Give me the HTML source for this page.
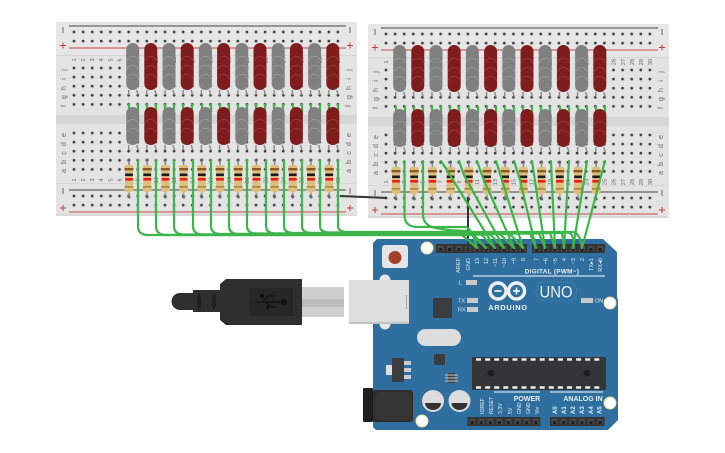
<!DOCTYPE html>
<html><head><meta charset="utf-8"><style>
html,body{margin:0;padding:0;background:#fff}
svg{display:block}
text{font-family:"Liberation Sans",sans-serif}
</style></head><body>
<svg width="725" height="453" viewBox="0 0 725 453" xmlns="http://www.w3.org/2000/svg">
<defs>
<pattern id="h" patternUnits="userSpaceOnUse" x="69.450" y="0" width="9.100" height="9.100">
<circle cx="4.550" cy="4.550" r="2.200" fill="#d6d6d6"/><circle cx="4.550" cy="4.550" r="1.300" fill="#3a3a3a"/>
</pattern>
<pattern id="s1" patternUnits="userSpaceOnUse" x="436" y="244" width="9.100" height="9">
<rect width="9.100" height="9" fill="#333"/><rect x="1.600" y="1.800" width="6" height="5.600" fill="#4a4a4a"/><rect x="3" y="4" width="3.200" height="3.200" fill="#222"/>
</pattern>
<pattern id="s2" patternUnits="userSpaceOnUse" x="532" y="244" width="9.100" height="9">
<rect width="9.100" height="9" fill="#333"/><rect x="1.600" y="1.800" width="6" height="5.600" fill="#4a4a4a"/><rect x="3" y="4" width="3.200" height="3.200" fill="#222"/>
</pattern>
<pattern id="s3" patternUnits="userSpaceOnUse" x="467.500" y="417" width="9.100" height="9">
<rect width="9.100" height="9" fill="#333"/><rect x="1.600" y="1.800" width="6" height="5.600" fill="#4a4a4a"/><rect x="3" y="4" width="3.200" height="3.200" fill="#222"/>
</pattern>
<pattern id="s4" patternUnits="userSpaceOnUse" x="550" y="417" width="9.100" height="9">
<rect width="9.100" height="9" fill="#333"/><rect x="1.600" y="1.800" width="6" height="5.600" fill="#4a4a4a"/><rect x="3" y="4" width="3.200" height="3.200" fill="#222"/>
</pattern>

<g id="legs"><path d="M-4 0V5M4 0L5.500 5" stroke="#8a8a8a" stroke-width="1.400" fill="none"/></g>
<g id="ledG4">
<use href="#legs" y="47"/>
<rect x="-6.500" width="13" height="47" rx="6.500" fill="#808080"/>
<path d="M-6.200 18a6.500 6.500 0 0 1 12.400 0M-6.200 27a6.500 6.500 0 0 1 12.400 0M-6.200 36a6.500 6.500 0 0 1 12.400 0" fill="none" stroke="#989898" stroke-width=".8"/>
</g>
<g id="ledR4">
<use href="#legs" y="47"/>
<rect x="-6.500" width="13" height="47" rx="6.500" fill="#7f1c1e"/>
<path d="M-6.200 18a6.500 6.500 0 0 1 12.400 0M-6.200 27a6.500 6.500 0 0 1 12.400 0M-6.200 36a6.500 6.500 0 0 1 12.400 0" fill="none" stroke="#9e383c" stroke-width=".8"/>
</g>
<g id="ledG3">
<use href="#legs" y="38"/>
<rect x="-6.500" width="13" height="38" rx="6.500" fill="#808080"/>
<path d="M-6.200 17a6.500 6.500 0 0 1 12.400 0M-6.200 26a6.500 6.500 0 0 1 12.400 0" fill="none" stroke="#989898" stroke-width=".8"/>
</g>
<g id="ledR3">
<use href="#legs" y="38"/>
<rect x="-6.500" width="13" height="38" rx="6.500" fill="#7f1c1e"/>
<path d="M-6.200 17a6.500 6.500 0 0 1 12.400 0M-6.200 26a6.500 6.500 0 0 1 12.400 0" fill="none" stroke="#9e383c" stroke-width=".8"/>
</g>
<g id="res">
<path d="M0 160V197" stroke="#8a8a8a" stroke-width="1.500"/>
<circle cy="160" r="1.500" fill="#666"/><circle cy="197" r="1.500" fill="#666"/>
<path d="M-2.500 165h5q2 0 2 2.500v2q0 1.500-.6 2.500v13q.6 1 .6 2.500v1.500q0 2.500-2 2.500l-2.500 2h0l-2.500-2q-2 0-2-2.500v-1.500q0-1.500 .6-2.500v-13q-.6-1-.6-2.500v-2q0-2.500 2-2.500z" fill="#dcbf7c"/>
<rect x="-4.500" y="168" width="9" height="2.400" fill="#8b5a24"/>
<rect x="-3.900" y="173.500" width="7.800" height="2.600" fill="#1c1c1c"/>
<rect x="-3.900" y="178" width="7.800" height="2.600" fill="#f01c1c"/>
<rect x="-4.200" y="186" width="8.400" height="1.600" fill="#a8893f"/>
</g>
<g id="pair">
<use href="#ledG4" x="0" y="43"/><use href="#ledG3" x="0" y="107"/>
</g>
<g id="pairR">
<use href="#ledR4" x="0" y="43"/><use href="#ledR3" x="0" y="107"/>
</g>
<g id="stub"><path d="M-4 104V112M5 104V112" stroke="#3cb54a" stroke-width="2.200"/></g>
<g id="comps">
<use href="#stub" x="133"/><use href="#stub" x="151"/><use href="#stub" x="169"/><use href="#stub" x="187"/><use href="#stub" x="206"/><use href="#stub" x="224"/><use href="#stub" x="242"/><use href="#stub" x="260"/><use href="#stub" x="278"/><use href="#stub" x="297"/><use href="#stub" x="315"/><use href="#stub" x="333"/>
<use href="#pair" x="132.700"/><use href="#pairR" x="150.800"/><use href="#pair" x="169"/><use href="#pairR" x="187.200"/><use href="#pair" x="205.400"/><use href="#pairR" x="223.600"/><use href="#pair" x="241.800"/><use href="#pairR" x="260"/><use href="#pair" x="278.200"/><use href="#pairR" x="296.400"/><use href="#pair" x="314.600"/><use href="#pairR" x="332.800"/>
<use href="#res" x="129"/><use href="#res" x="147.200"/><use href="#res" x="165.400"/><use href="#res" x="183.600"/><use href="#res" x="201.800"/><use href="#res" x="220"/><use href="#res" x="238.200"/><use href="#res" x="256.400"/><use href="#res" x="274.600"/><use href="#res" x="292.800"/><use href="#res" x="311"/><use href="#res" x="329.200"/>
</g>
<g id="nums" font-size="5.500" fill="#666" text-anchor="middle">
<text transform="translate(76,0) rotate(-90)">1</text><text transform="translate(85,0) rotate(-90)">2</text><text transform="translate(94,0) rotate(-90)">3</text><text transform="translate(103,0) rotate(-90)">4</text><text transform="translate(112.500,0) rotate(-90)">5</text><text transform="translate(121.500,0) rotate(-90)">6</text><text transform="translate(130.500,0) rotate(-90)">7</text><text transform="translate(139.700,0) rotate(-90)">8</text><text transform="translate(148.800,0) rotate(-90)">9</text><text transform="translate(158,0) rotate(-90)">10</text><text transform="translate(167,0) rotate(-90)">11</text><text transform="translate(176,0) rotate(-90)">12</text><text transform="translate(185,0) rotate(-90)">13</text><text transform="translate(194.500,0) rotate(-90)">14</text><text transform="translate(203.500,0) rotate(-90)">15</text><text transform="translate(212.500,0) rotate(-90)">16</text><text transform="translate(221.700,0) rotate(-90)">17</text><text transform="translate(230.800,0) rotate(-90)">18</text><text transform="translate(240,0) rotate(-90)">19</text><text transform="translate(249,0) rotate(-90)">20</text><text transform="translate(258,0) rotate(-90)">21</text><text transform="translate(267.300,0) rotate(-90)">22</text><text transform="translate(276.400,0) rotate(-90)">23</text><text transform="translate(285.500,0) rotate(-90)">24</text><text transform="translate(294.600,0) rotate(-90)">25</text><text transform="translate(303.700,0) rotate(-90)">26</text><text transform="translate(312.800,0) rotate(-90)">27</text><text transform="translate(322,0) rotate(-90)">28</text><text transform="translate(331,0) rotate(-90)">29</text><text transform="translate(340,0) rotate(-90)">30</text>
</g>
<g id="board">
<rect x="56" y="22" width="301" height="194" rx="2" fill="#e3e3e3"/>
<rect x="56" y="22" width="301" height="33" rx="2" fill="#e6e6e6"/>
<rect x="56" y="55" width="301" height="1" fill="#d6d6d6"/>
<rect x="56" y="115" width="301" height="9" fill="#d6d6d6"/>
<rect x="56" y="183" width="301" height="1" fill="#d6d6d6"/>
<rect x="56" y="214" width="301" height="2" rx="1" fill="#d8d8d8"/>
<path d="M69 26H346" stroke="#444" stroke-width="1"/>
<path d="M69 48H346" stroke="#c44a4a" stroke-width="1"/>
<path d="M69 190H346" stroke="#444" stroke-width="1"/>
<path d="M69 212H346" stroke="#c44a4a" stroke-width="1"/>
<rect x="69.450" y="0" width="273" height="18.200" fill="url(#h)" transform="translate(0,27.450)"/>
<rect x="69.450" y="0" width="273" height="45.500" fill="url(#h)" transform="translate(0,63.450)"/>
<rect x="69.450" y="0" width="273" height="45.500" fill="url(#h)" transform="translate(0,128.450)"/>
<rect x="69.450" y="0" width="273" height="18.200" fill="url(#h)" transform="translate(0,191.450)"/>
<path d="M63 27V33M350 27V33M63 188V194M350 188V194" stroke="#666" stroke-width="1"/>
<path d="M60 45.500H66M63 42.500V48.500M347 45.500H353M350 42.500V48.500M60 208H66M63 205V211M347 208H353M350 205V211" stroke="#c93a3a" stroke-width="1"/>
<use href="#nums" y="60"/>
<use href="#nums" y="180"/>
<g font-size="7" fill="#666" text-anchor="middle">
<text transform="translate(66,70) rotate(-90)">j</text><text transform="translate(66,79) rotate(-90)">i</text><text transform="translate(66,88) rotate(-90)">h</text><text transform="translate(66,97) rotate(-90)">g</text><text transform="translate(66,106) rotate(-90)">f</text>
<text transform="translate(66,135) rotate(-90)">e</text><text transform="translate(66,144) rotate(-90)">d</text><text transform="translate(66,153) rotate(-90)">c</text><text transform="translate(66,162) rotate(-90)">b</text><text transform="translate(66,171) rotate(-90)">a</text>
<text transform="translate(351,70) rotate(-90)">j</text><text transform="translate(351,79) rotate(-90)">i</text><text transform="translate(351,88) rotate(-90)">h</text><text transform="translate(351,97) rotate(-90)">g</text><text transform="translate(351,106) rotate(-90)">f</text>
<text transform="translate(351,135) rotate(-90)">e</text><text transform="translate(351,144) rotate(-90)">d</text><text transform="translate(351,153) rotate(-90)">c</text><text transform="translate(351,162) rotate(-90)">b</text><text transform="translate(351,171) rotate(-90)">a</text>
</g>
</g>
</defs>

<use href="#board"/>
<use href="#board" x="312" y="2"/>
<use href="#comps"/>
<use href="#comps" x="267" y="2"/>

<!-- Arduino -->
<path d="M377 239H603L617 252V297L618 300V420L608 430H376L373 427V243Z" fill="#2f6f9f"/>
<circle cx="427" cy="248" r="6" fill="#fff" stroke="#e9dca0" stroke-width="1"/>
<circle cx="610" cy="303" r="6" fill="#fff" stroke="#e9dca0" stroke-width="1"/>
<circle cx="610" cy="403" r="6" fill="#fff" stroke="#e9dca0" stroke-width="1"/>
<circle cx="422" cy="421" r="6" fill="#fff" stroke="#e9dca0" stroke-width="1"/>
<rect x="436" y="244" width="91" height="9" fill="url(#s1)"/>
<rect x="532" y="244" width="72.800" height="9" fill="url(#s2)"/>
<rect x="467.500" y="417" width="72.800" height="9" fill="url(#s3)"/>
<rect x="550" y="417" width="54.600" height="9" fill="url(#s4)"/>
<rect x="382" y="245" width="26" height="23" rx="3" fill="#e4e4e4"/>
<circle cx="395" cy="257.500" r="6.500" fill="#a5412a"/>
<circle cx="385" cy="280" r="5.500" fill="#e6e6e6"/><circle cx="385" cy="324" r="5.500" fill="#e6e6e6"/>

<!-- USB -->
<rect x="302" y="287" width="42" height="30" fill="#cfcfcf"/>
<rect x="302" y="299" width="42" height="8" fill="#bdbdbd"/>
<rect x="349" y="280" width="60" height="44" fill="#dedede"/>
<rect x="349" y="322" width="60" height="2" fill="#c4c4c4"/>
<rect x="406" y="295" width="1" height="14" fill="#aaa"/>
<path d="M180 293H193V290H220V284L226 279H302V325H226L220 320V312H193V310H180A8.500 8.500 0 0 1 180 293Z" fill="#2f2f2f"/>
<ellipse cx="199" cy="301.500" rx="2" ry="8" fill="#1f1f1f"/><ellipse cx="214" cy="301.500" rx="2" ry="8" fill="#1f1f1f"/>
<rect x="249" y="288" width="44" height="28" fill="#272727"/>
<path d="M255 302H282M262 302L268 296H274M266 302L271 307H275" stroke="#111" stroke-width="1.200" fill="none"/>
<circle cx="284" cy="302" r="3" fill="#111"/><rect x="260" y="294" width="4" height="4" fill="#111"/><circle cx="268" cy="307" r="2" fill="#111"/>

<!-- Parts -->
<rect x="433" y="298" width="19" height="20" rx="1" fill="#3a3d40"/>
<rect x="417" y="329" width="44" height="17" rx="8.500" fill="#dcdcdc"/>
<rect x="434" y="354" width="11" height="11" rx="1" fill="#3a3d40"/>
<rect x="386" y="365" width="6" height="10" fill="#ddd"/>
<rect x="392" y="358" width="12" height="24" fill="#3a3d40"/>
<rect x="404" y="361" width="7" height="4" fill="#ccc"/><rect x="404" y="368" width="7" height="4" fill="#ccc"/><rect x="404" y="375" width="7" height="4" fill="#ccc"/>
<rect x="448" y="373" width="7" height="10" fill="#3a3d40"/>
<path d="M445 375h13M445 378h13M445 381h13" stroke="#ccc" stroke-width="1"/>
<rect x="472" y="357" width="134" height="33" rx="1" fill="#333537"/>
<path d="M476 359.500H602M476 387.500H602" stroke="#eee" stroke-width="2.400" stroke-dasharray="5 4.100"/>
<circle cx="491" cy="373" r="3.500" fill="#202020"/><circle cx="587" cy="373" r="3.500" fill="#202020"/>
<rect x="372" y="390" width="41" height="32" rx="3" fill="#2d2d2d"/>
<rect x="375" y="392" width="37" height="28" rx="5" fill="#363636"/>
<rect x="363" y="388" width="10" height="34" rx="1" fill="#1e1e1e"/>
<circle cx="433" cy="401" r="11" fill="#dcdcdc"/><path d="M425 403a8 7 0 0 0 16 0z" fill="#333"/>
<circle cx="459.500" cy="401" r="11" fill="#dcdcdc"/><path d="M451.500 403a8 7 0 0 0 16 0z" fill="#333"/>
<rect x="466" y="280" width="11" height="5" fill="#c8c8c8"/>
<rect x="467" y="298" width="11" height="5" fill="#c8c8c8"/>
<rect x="467" y="307" width="11" height="5" fill="#c8c8c8"/>
<rect x="581" y="298" width="12" height="5" fill="#c8c8c8"/>
<g fill="#fff" stroke="none">
<rect x="473" y="275.500" width="132" height="1"/>
<rect x="494" y="391.500" width="46" height="1"/>
<rect x="550" y="391.500" width="53" height="1"/>
</g>
<g fill="#e9eef3" font-size="6">
<text x="459" y="284.500" text-anchor="start" font-size="5.500">L</text>
<text x="458" y="302.500" font-size="5.500">TX</text>
<text x="458" y="311.500" font-size="5.500">RX</text>
<text x="595" y="302.500" font-size="5.500">ON</text>
<text x="552" y="273.500" text-anchor="middle" font-size="6.400" font-weight="bold" letter-spacing=".3">DIGITAL (PWM~)</text>
<text x="527" y="401" text-anchor="middle" font-size="7" font-weight="bold">POWER</text>
<text x="583" y="401" text-anchor="middle" font-size="7" font-weight="bold">ANALOG IN</text>
</g>
<g fill="#e9eef3" font-size="5.600" text-anchor="end">
<text transform="translate(460,258) rotate(-90)">AREF</text>
<text transform="translate(470,258) rotate(-90)">GND</text>
<text transform="translate(479,258) rotate(-90)">13</text>
<text transform="translate(488,258) rotate(-90)">12</text>
<text transform="translate(497,258) rotate(-90)">~11</text>
<text transform="translate(506,258) rotate(-90)">~10</text>
<text transform="translate(515.500,258) rotate(-90)">~9</text>
<text transform="translate(525,258) rotate(-90)">8</text>
<text transform="translate(538.500,258) rotate(-90)">7</text>
<text transform="translate(547.500,258) rotate(-90)">~6</text>
<text transform="translate(557,258) rotate(-90)">~5</text>
<text transform="translate(566,258) rotate(-90)">4</text>
<text transform="translate(575,258) rotate(-90)">~3</text>
<text transform="translate(584,258) rotate(-90)">2</text>
<text transform="translate(593,258) rotate(-90)">TX▸1</text>
<text transform="translate(602,258) rotate(-90)">RX◂0</text>
</g>
<g fill="#e9eef3" font-size="5.200">
<text transform="translate(484,414) rotate(-90)">IOREF</text>
<text transform="translate(493,414) rotate(-90)">RESET</text>
<text transform="translate(502,414) rotate(-90)">3.3V</text>
<text transform="translate(512,414) rotate(-90)">5V</text>
<text transform="translate(521,414) rotate(-90)">GND</text>
<text transform="translate(530,414) rotate(-90)">GND</text>
<text transform="translate(539,414) rotate(-90)">Vin</text>
</g>
<g fill="#e9eef3" font-size="6" font-weight="bold">
<text transform="translate(557,414) rotate(-90)">A0</text>
<text transform="translate(566,414) rotate(-90)">A1</text>
<text transform="translate(575,414) rotate(-90)">A2</text>
<text transform="translate(584,414) rotate(-90)">A3</text>
<text transform="translate(593,414) rotate(-90)">A4</text>
<text transform="translate(601.500,414) rotate(-90)">A5</text>
</g>
<circle cx="498" cy="291" r="8" fill="none" stroke="#eef1f3" stroke-width="3.400"/>
<circle cx="516.500" cy="291" r="8" fill="none" stroke="#eef1f3" stroke-width="3.400"/>
<path d="M494.500 291H501.500M513 291H520M516.500 287.500V294.500" stroke="#eef1f3" stroke-width="1.700"/>
<text x="508" y="310" text-anchor="middle" font-size="7.400" font-weight="bold" letter-spacing=".7" fill="#eef1f3">ARDUINO</text>
<rect x="536" y="282" width="41" height="19" rx="9" fill="none" stroke="#5d90b7" stroke-width=".7" stroke-dasharray="1 1"/>
<text x="556" y="297.500" text-anchor="middle" font-size="17" fill="#eef1f3" textLength="33" lengthAdjust="spacingAndGlyphs">UNO</text>

<!-- black wires -->
<path d="M340 196L387 198" stroke="#333" stroke-width="2" fill="none"/>
<path d="M468 198V250" stroke="#333" stroke-width="2" fill="none"/>

<!-- green wires -->
<g fill="none" stroke="#3cb54a" stroke-width="2.200" stroke-linecap="round">
<path d="M138 160V226Q138 235 148 235H462L477 248"/>
<path d="M156 160V226Q156 235 166 235H472L486 248"/>
<path d="M174 160V226Q174 234.500 184 234.500H481L495 248"/>
<path d="M193 160V226Q193 234.500 203 234.500H490L504 248"/>
<path d="M211 160V226Q211 234 221 234H500L514 248"/>
<path d="M229 160V226Q229 234 239 234H510L523 248"/>
<path d="M247 160V226Q247 233.500 257 233.500H530L536 248"/>
<path d="M266 160V226Q266 233.500 276 233.500H539L545 248"/>
<path d="M284 160V226Q284 233 294 233H550L555 248"/>
<path d="M302 160V226Q302 233 312 233H562L564 248"/>
<path d="M320 160V226Q320 232.500 330 232.500H566Q575 232 573 248"/>
<path d="M338 160V226Q338 232 348 232H572Q580 232 582 248"/>
<path d="M404.500 161V216Q405 226 416 227H466Q472 229 477 248"/>
<path d="M423 161V216Q424 226 436 228Q450 231 470 231L486 248"/>
<path d="M441 161Q447 170 453 180L495 248"/>
<path d="M459 161L464 175L504 248"/>
<path d="M477 161L483 178L514 248"/>
<path d="M496 161L502 180L523 248"/>
<path d="M514 161L520 180L536 248"/>
<path d="M532 161L545 248"/>
<path d="M551 161L555 248"/>
<path d="M569 161L564 248"/>
<path d="M587 161L573 248"/>
<path d="M605 161L582 248"/>
</g>
</svg>
</body></html>
